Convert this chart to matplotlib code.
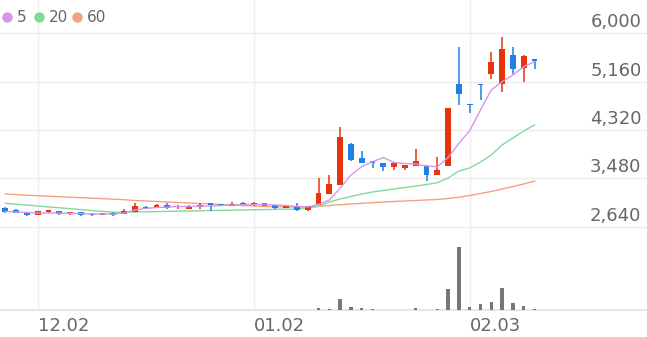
import matplotlib
matplotlib.use("agg")
import matplotlib.pyplot as plt
from matplotlib.lines import Line2D

# daily candles, oldest first
OPENS  = [2964, 2929, 2860, 2848, 2889, 2906, 2865, 2894, 2860, 2848,
          2883, 2860, 2894, 2981, 2981, 3021, 2981, 2952, 2993, 3045,
          3033, 3004, 3056, 3010, 3051, 3010, 2964, 3004, 2923, 3016,
          3207, 3364, 4071, 3841, 3772, 3740, 3677, 3659, 3702, 3702,
          3543, 3702, 5119, 4771, 5113, 5293, 5119, 5623, 5392, 5548]
HIGHS  = [2976, 2940, 2883, 2912, 2929, 2917, 2894, 2900, 2871, 2877,
          2889, 2952, 3056, 2993, 3027, 3045, 3010, 3010, 3045, 3050,
          3039, 3062, 3062, 3062, 3056, 3016, 3010, 3051, 3004, 3485,
          3532, 4377, 4093, 3953, 3786, 3746, 3757, 3717, 3989, 3711,
          3845, 4710, 5757, 4771, 5113, 5670, 5941, 5767, 5620, 5548]
LOWS   = [2877, 2877, 2825, 2842, 2877, 2837, 2837, 2831, 2825, 2842,
          2831, 2854, 2889, 2952, 2975, 2941, 2941, 2946, 2952, 2917,
          3004, 2999, 3010, 3004, 2999, 2952, 2958, 2917, 2917, 3010,
          3200, 3358, 3781, 3740, 3653, 3607, 3624, 3624, 3694, 3433,
          3537, 3690, 4754, 4610, 4840, 5201, 4985, 5293, 5159, 5373]
CLOSES = [2894, 2883, 2848, 2906, 2923, 2860, 2889, 2837, 2837, 2871,
          2837, 2906, 2993, 2958, 3021, 2964, 2993, 3004, 3016, 3010,
          3010, 3033, 3016, 3056, 3004, 2958, 3004, 2923, 2999, 3219,
          3381, 4203, 3798, 3746, 3746, 3671, 3751, 3711, 3781, 3542,
          3630, 4697, 4945, 4754, 5096, 5507, 5722, 5374, 5606, 5519]

MA5  = [2903, 2894, 2886, 2877, 2877, 2877, 2872, 2868, 2860, 2860,
        2860, 2877, 2929, 2955, 2972, 2981, 2990, 2990, 2993, 2999,
        3007, 3016, 3021, 3025, 3025, 3016, 3007, 2990, 2981, 3028,
        3103, 3306, 3537, 3682, 3768, 3841, 3755, 3737, 3728, 3694,
        3682, 3841, 4088, 4307, 4667, 5015, 5159, 5275, 5420, 5506]
MA20 = [3045, 3030, 3014, 2999, 2983, 2967, 2952, 2936, 2920, 2905,
        2889, 2891, 2894, 2898, 2901, 2905, 2908, 2912, 2915, 2919,
        2922, 2926, 2929, 2933, 2936, 2940, 2943, 2946, 2967, 2990,
        3068, 3120, 3164, 3207, 3242, 3268, 3294, 3320, 3346, 3372,
        3403, 3485, 3607, 3659, 3763, 3885, 4059, 4180, 4302, 4406]
MA60 = [3207, 3197, 3186, 3178, 3169, 3160, 3152, 3143, 3134, 3126,
        3117, 3108, 3094, 3085, 3077, 3068, 3059, 3051, 3042, 3033,
        3025, 3016, 3007, 2999, 2990, 2985, 2981, 2981, 2985, 2993,
        3007, 3019, 3033, 3045, 3056, 3068, 3077, 3085, 3094, 3103,
        3112, 3129, 3150, 3181, 3216, 3251, 3294, 3337, 3381, 3433]

VOLUME = [0] * 29 + [3.8, 1.1, 17, 5.4, 2.8, 0.8, 0.5, 0.5, 0.5, 3.8,
                     0.5, 0.8, 33, 100, 5.4, 9.3, 12, 35, 11, 6, 1.1]

DATE_POS    = [3, 23, 43]
DATE_LABELS = ["12.02", "01.02", "02.03"]
PRICE_TICKS = [2640, 3480, 4320, 5160, 6000]

UP, DOWN = "#e8340c", "#1f7fe6"
MA_COLORS = {"5": "#d595ea", "20": "#85d89b", "60": "#f5a27c"}
TXT = "#666666"
GRID = "#eeeeee"

W, H = 647, 337
fig = plt.figure(figsize=(W / 100, H / 100), dpi=100)
ax = fig.add_axes([0, 1 - 236 / H, 1, 236 / H])
axv = fig.add_axes([0, 1 - 310 / H, 1, 74 / H], sharex=ax)

# candles
for i, (o, h, l, c) in enumerate(zip(OPENS, HIGHS, LOWS, CLOSES)):
	col = UP if c >= o else DOWN
	ax.vlines(i, l, h, color=col, lw=1.1, zorder=3)
	ax.bar(i, max(abs(c - o), 25), bottom=min(o, c), width=0.55, color=col, zorder=3)

x = range(len(CLOSES))
ax.plot(x, MA60, color=MA_COLORS["60"], lw=1.0, zorder=2)
ax.plot(x, MA20, color=MA_COLORS["20"], lw=1.0, zorder=2)
ax.plot(x, MA5, color=MA_COLORS["5"], lw=1.0, zorder=4)

axv.bar(x, VOLUME, width=0.3, color="#777777", zorder=3)

ax.set_xlim(-5.3 / 10.8, (W - 5.3) / 10.8)
ax.set_ylim(2477, 6579)
axv.set_ylim(0, 117.5)

ax.set_yticks(PRICE_TICKS)
ax.set_yticklabels([])
ax.tick_params(length=0, labelbottom=False)
ax.set_xticks(DATE_POS)
ax.grid(color=GRID, lw=1.0, zorder=0)
axv.grid(axis="x", color=GRID, lw=1.0, zorder=0)
axv.set_yticks([])
axv.set_xticks(DATE_POS)
axv.set_xticklabels(DATE_LABELS, ha="left", fontsize=13, color=TXT)
axv.tick_params(length=0, pad=5)

for a in (ax, axv):
	for s in a.spines.values():
		s.set_visible(False)
	a.set_facecolor("none")
axv.spines["bottom"].set_visible(True)
axv.spines["bottom"].set_color("#e2e2e2")
axv.spines["bottom"].set_linewidth(1.2)

for p in PRICE_TICKS:
	ax.annotate(f"{p:,}", xy=(1, p), xycoords=("axes fraction", "data"),
		xytext=(-4, 4.3), textcoords="offset points",
		ha="right", va="baseline", fontsize=13, color=TXT)

# legend
for cx, tx, key in [(6.7, 17.3, "5"), (39.3, 49.3, "20"), (77.3, 87.3, "60")]:
	fig.add_artist(Line2D([cx / W], [1 - 16.7 / H], marker="o", markersize=6.5,
		color=MA_COLORS[key], transform=fig.transFigure))
	fig.text(tx / W, 1 - 17 / H, key, ha="left", va="center", fontsize=11, color=TXT)

fig.savefig("out.png", dpi=100)
